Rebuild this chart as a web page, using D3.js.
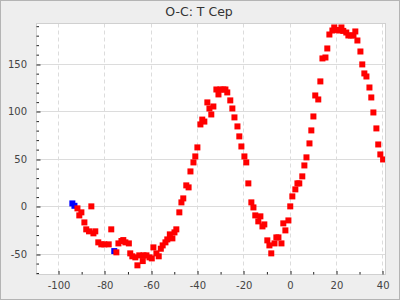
<!DOCTYPE html>
<html><head><meta charset="utf-8">
<script src="https://cdn.jsdelivr.net/npm/d3@7"></script>
<style>html,body{margin:0;padding:0;background:#eeeeee} svg{display:block}</style>
</head><body><svg id="c" width="400" height="300"></svg>
<script>
const title = "O-C: T Cep";
const xTicks = [-100, -80, -60, -40, -20, 0, 20, 40];
const yTicks = [-50, 0, 50, 100, 150];
const blueX = [-93.8, -92.9, -75.7];
const blueY = [2.8, 0.3, -47.4];
const redX = [-91.6,-90.8,-89.9,-88.6,-87.8,-86.6,-85.6,-84.7,-83.9,-82.6,-81.3,-80.0,-78.1,-77.0,-74.8,-73.9,-72.6,-71.8,-70.9,-69.4,
-68.8,-67.9,-66.6,-65.7,-64.9,-63.4,-63.1,-61.8,-60.5,-59.5,-58.8,-57.5,-56.5,-55.6,-54.8,-53.6,-52.8,-51.7,-50.6,-49.7,
-48.9,-47.6,-46.7,-45.9,-44.6,-43.6,-42.8,-41.5,-40.7,-39.8,-38.5,-37.7,-36.8,-35.5,-34.6,-33.8,-32.9,-31.6,-30.7,-29.9,
-28.6,-27.7,-26.9,-25.6,-24.7,-23.8,-22.5,-21.7,-20.8,-19.5,-18.7,-17.8,-16.5,-15.6,-14.8,-13.5,-12.6,-11.7,-10.9,-9.6,
-8.7,-7.9,-6.5,-5.7,-4.8,-3.5,-2.7,-1.8,-0.5,0.3,1.2,2.5,3.4,4.2,5.5,6.4,7.3,8.6,9.4,10.3,
11.1,12.4,13.3,14.2,15.5,16.3,17.2,18.5,19.3,20.2,21.5,22.4,23.2,24.5,25.4,26.5,27.6,28.4,29.3,30.6,
31.4,32.3,33.2,34.5,35.3,36.2,37.5,38.3,39.2,40.4];
const redY = [-2.4,-9.8,-6.6,-17.2,-24.5,-26.6,-0.3,-28.7,-26.6,-38.2,-40.3,-40.3,-40.3,-24.5,-48.7,-39.3,-36.8,-35.8,-38.2,-39.3,
-49.8,-52.9,-54.0,-62.4,-51.9,-57.9,-51.9,-51.9,-54.0,-55.1,-43.5,-49.8,-52.9,-44.9,-41.4,-38.2,-35.1,-29.8,-34.0,-27.7,
-24.5,-6.6,3.9,8.1,21.8,19.7,36.5,46.0,52.3,61.8,86.0,91.1,89.0,109.2,102.8,96.5,104.9,122.8,117.6,122.8,
122.8,122.8,119.7,111.3,102.8,93.4,83.9,73.4,62.8,52.3,46.0,23.9,3.9,-1.4,-9.8,-16.1,-10.8,-21.4,-19.3,-36.1,
-41.4,-49.8,-39.3,-33.0,-33.0,-39.3,-18.2,-25.6,-15.1,-0.3,10.2,17.6,23.9,23.9,31.3,42.8,51.3,66.0,79.7,94.4,
116.5,112.3,131.3,155.5,156.5,166.0,180.7,184.9,188.1,185.5,184.9,188.1,184.5,182.8,179.7,179.7,179.7,183.9,174.4,162.8,
149.2,139.7,136.5,124.9,114.4,98.6,81.8,64.9,54.4,49.1];

const svg = d3.select("#c");
const W = 400, H = 300;
const L = 36, R = 384.5, T = 23.3, B = 273.5;
const x = d3.scaleLinear().domain([-109.5, 41]).range([L, R]);
const y = d3.scaleLinear().domain([-71, 192.5]).range([B, T]);

svg.append("rect").attr("x", 0.5).attr("y", 0.5).attr("width", W - 1).attr("height", H - 1)
  .attr("fill", "#eeeeee").attr("stroke", "#b4b4b4");

const pl = Math.round(L) + 0.5, pt = Math.round(T) + 0.5, pr = Math.round(R) + 0.5, pb = Math.round(B) + 0.5;
svg.append("rect").attr("x", pl).attr("y", pt).attr("width", pr - pl).attr("height", pb - pt)
  .attr("fill", "#ffffff");

svg.append("defs").append("clipPath").attr("id", "clip")
  .append("rect").attr("x", pl).attr("y", pt).attr("width", pr - pl).attr("height", pb - pt);

// gridlines
const g = svg.append("g");
g.selectAll("line.h").data(yTicks).join("line")
  .attr("x1", pl).attr("x2", pr)
  .attr("y1", d => Math.round(y(d)) + 0.5).attr("y2", d => Math.round(y(d)) + 0.5)
  .attr("stroke", "#dcdcdc").attr("stroke-width", 1);
g.selectAll("line.v").data(xTicks).join("line")
  .attr("y1", pt).attr("y2", pb)
  .attr("x1", d => Math.round(x(d)) + 0.5).attr("x2", d => Math.round(x(d)) + 0.5)
  .attr("stroke", "#dcdcdc").attr("stroke-width", 1).attr("stroke-dasharray", "4,3");

// points
const pts = svg.append("g").attr("clip-path", "url(#clip)");
const sz = 6;
pts.selectAll("rect.b").data(blueX.map((v, i) => [v, blueY[i]])).join("rect")
  .attr("x", d => x(d[0]) - sz / 2).attr("y", d => y(d[1]) - sz / 2)
  .attr("width", sz).attr("height", sz).attr("fill", "#0000ff");
pts.selectAll("rect.r").data(redX.map((v, i) => [v, redY[i]])).join("rect")
  .attr("x", d => x(d[0]) - sz / 2).attr("y", d => y(d[1]) - sz / 2)
  .attr("width", sz).attr("height", sz).attr("fill", "#ff0000");

// plot outline
svg.append("rect").attr("x", pl).attr("y", pt).attr("width", pr - pl).attr("height", pb - pt)
  .attr("fill", "none").attr("stroke", "#d0d0d0");

// axes
const minorX = d3.range(-100, 41, 10).filter(v => !xTicks.includes(v));
const minorY = d3.range(-70, 191, 10).filter(v => !yTicks.includes(v));

const fmt = d => String(d);
const xa = svg.append("g").attr("transform", `translate(0.5,${pb})`)
  .call(d3.axisBottom(x).tickValues(xTicks).tickFormat(fmt).tickSize(-3.5).tickPadding(7.5));
const xm = svg.append("g").attr("transform", `translate(0.5,${pb})`)
  .call(d3.axisBottom(x).tickValues(minorX).tickFormat("").tickSize(-2.5));
const ya = svg.append("g").attr("transform", `translate(${pl},0.5)`)
  .call(d3.axisLeft(y).tickValues(yTicks).tickFormat(fmt).tickSize(-4).tickPadding(9.5));
const ym = svg.append("g").attr("transform", `translate(${pl},0.5)`)
  .call(d3.axisLeft(y).tickValues(minorY).tickFormat("").tickSize(-2.5));

[xa, xm, ya, ym].forEach(a => {
  a.select(".domain").remove();
  a.selectAll(".tick line").attr("stroke", "#222");
  a.selectAll(".tick text").attr("fill", "#444").style("font-family", "DejaVu Sans, sans-serif").style("font-size", "10px");
});
ya.selectAll(".tick line").attr("transform", d => `translate(0,${Math.round(y(d)) - y(d)})`);
xa.selectAll(".tick line").attr("transform", d => `translate(${Math.round(x(d)) - x(d)},0)`);

svg.append("text").attr("x", 199).attr("y", 15.5).attr("text-anchor", "middle")
  .style("font-family", "DejaVu Sans, sans-serif").style("font-size", "12.5px").attr("fill", "#333")
  .text(title);
</script></body></html>
